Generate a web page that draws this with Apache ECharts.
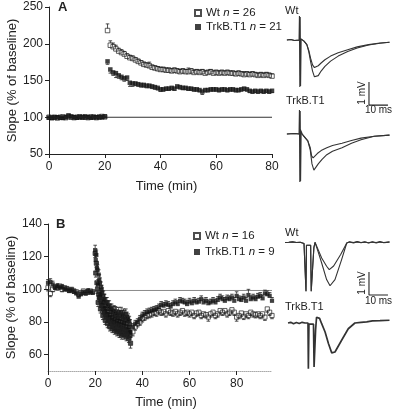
<!DOCTYPE html>
<html><head><meta charset="utf-8">
<script src="https://cdn.jsdelivr.net/npm/echarts@6/dist/echarts.min.js"></script>
<style>html,body{margin:0;padding:0;background:#fff}#c{width:393px;height:412px}</style>
</head><body><div id="c"></div>
<script>
// ---------- Panel A data (time in min, slope % of baseline) ----------
const aTime = [0,1,2,3,4,5,6,7,8,9,10,11,12,13,14,15,16,17,18,19,20,
  21,22,23,24,25,26,27,28,29,30,31,32,33,34,35,36,37,38,39,40,
  41,42,43,44,45,46,47,48,49,50,51,52,53,54,55,56,57,58,59,60,
  61,62,63,64,65,66,67,68,69,70,71,72,73,74,75,76,77,78,79,80];
const aWt = [100,99.5,100,99,100,100.5,99.5,101,100,99.5,100,100.5,100,100,99.5,100.5,100,99.5,100,101,100.5,
  218,198,196,193,190,188,186,183,181,180,
  178,176,174,172,171,170,168,167,166,165,
  165,164,164,163,164,163,162,163,162,162,
  163,161,162,161,162,160,161,162,160,161,
  160,161,160,161,160,160,159,160,159,158,
  159,158,159,158,157,158,157,158,157,156];
const aWtErr = [0.8,0.8,0.8,0.8,0.8,0.8,0.8,0.8,0.8,0.8,0.8,0.8,0.8,0.8,0.8,0.8,0.8,0.8,0.8,0.8,0.8,
  9,6,5,5,4,4,3.5,3.5,3.5,3.5,
  3,3,3,3,3,5,3,3,3,3,
  3,3,3,3,3,3,3,3,3,5,
  3,3,3,3,3,3,3,3,3,3,
  3,3,3,3,3,3,3,3,3,4,
  3,3,3,3,3,3,3,3,3,3];
const aTrk = [99.5,99,100,100,99.5,99,100,102.5,101,100,99.5,100.5,100,101,100,99.5,100.5,100,100.5,100,101,
  176,165,161,160,157,155,153,154,147,146,
  146,145,144,144,143,143,142,141,140,138,
  138,139,139,140,139,142,141,140,140,139,
  139,138,138,137,135,137,137,138,138,138,
  137,138,138,137,138,138,137,137,138,139,
  138,136,135,136,135,136,135,136,135,136];
const aTrkErr = [0.8,0.8,0.8,0.8,0.8,0.8,0.8,0.8,0.8,0.8,0.8,0.8,0.8,0.8,0.8,0.8,0.8,0.8,0.8,0.8,0.8,
  4,5,4,6,4,4,4,4,5,4,
  3,3,3,3,3,3,3,3,3,3,
  2.5,2.5,2.5,2.5,2.5,2.5,2.5,2.5,2.5,2.5,
  2.5,2.5,2.5,2.5,4,2.5,2.5,2.5,2.5,2.5,
  2.5,2.5,2.5,2.5,2.5,2.5,2.5,2.5,2.5,2.5,
  2.5,2.5,2.5,2.5,2.5,2.5,2.5,2.5,2.5,2.5];
const aRef = [[0,100],[80,100]];

// ---------- Panel B data ----------
const bTime1 = [0,1,2,3,4,5,6,7,8,9,10,11,12,13,14,15,16,17,18,19];
const bTime2 = [20,20.25,20.5,20.75, 21,21.25,21.5,21.75, 22,22.25,22.5,22.75, 23,23.25,23.5,23.75,
  24,24.25,24.5,24.75, 25,25.25,25.5,25.75, 26,26.25,26.5,26.75, 27,27.25,27.5,27.75,
  28,28.25,28.5,28.75, 29,29.25,29.5,29.75, 30,30.25,30.5,30.75, 31,31.25,31.5,31.75,
  32,32.25,32.5,32.75, 33,33.25,33.5,33.75, 34,34.25,34.5,34.75, 35];
const bTime3 = [36,37,38,39,40,41,42,43,44,45,46,47,48,49,50,51,52,53,54,55,
  56,57,58,59,60,61,62,63,64,65,66,67,68,69,70,71,72,73,74,75,
  76,77,78,79,80,81,82,83,84,85,86,87,88,89,90,91,92,93,94,95];

const bWt1 = [101,97.5,100,101.5,101,102,100,101,100.5,99.5,100,99,98.5,97,98,99,98,98.5,99,98.5];
const bWt2 = [122,110,116,104, 100,92,97,95, 95,88,92.5,90, 90,84,88,86,
  86.5,81,84.5,83, 84.5,79,82.5,81, 82.5,77,80.5,79, 81,76,79.5,77.5,
  80,75,78.5,76.5, 79,74,77.5,75.5, 78.5,73,76.5,75, 78,72,76,74,
  77.5,72,75.5,74, 77,71,75,73, 75,70,73.5,71.5, 67];
const bWt3 = [74,77,79,80,82,83,84,84.5,85,86,85.5,87,86,86.5,85,87,86,85.5,86.5,85,
  86,87,85.5,86,85,86,84,85.5,86,84,85,84.5,83,85,86,84,85,87,86,87,
  85,86,87.5,86,83,84,85.5,83.5,85,84,86,85,84.5,85,84,85,83,88,86,84];
const bWtErr1 = [2,2,1.5,1.5,1.5,1.5,1.5,1.5,1.5,1.5,1.5,1.5,1.5,1.5,1.5,1.5,1.5,1.5,1.5,1.5];
const bWtErr2 = [2.5,2.5,2.5,2.5, 2.5,2.5,2.5,2.5, 2.5,2.5,2.5,2.5, 2.5,2.5,2.5,2.5,
  2.5,2.5,2.5,2.5, 2.5,2.5,2.5,2.5, 2.5,2.5,2.5,2.5, 2.5,2.5,2.5,2.5,
  2.5,2.5,2.5,2.5, 2.5,2.5,2.5,2.5, 2.5,2.5,2.5,2.5, 2.5,2.5,2.5,2.5,
  2.5,2.5,2.5,2.5, 2.5,2.5,2.5,2.5, 2.5,2.5,2.5,2.5, 3];
const bWtErr3 = [2.5,2,2,2,2,2,2,2,2,2,2,2,2,2,2,2,2,2,2,2,
  2,2,2,2,2,2,2,2,2,2,2,2,2.5,2,2,2,2,2,2,2,
  2,2,2,2,2.5,2,2,2,2,2,2,2,2,2,2,2,2,2,2,2];

const bTrk1 = [104,104.5,103,101,102,101,101.5,100,100,99,99.5,98.5,97.5,95.5,97,98,97.5,99,98,98];
const bTrk2 = [124,118,121,113, 112,103,109,106, 104,97,101.5,99.5, 98,92,96,94,
  94,88.5,92,90, 92,86.5,90,88, 90,84.5,88,86, 88,83,86.5,84.5,
  87,82,85.5,83.5, 86,81,84.5,82.5, 86,80.5,84,82, 86,80,84,82,
  85,79.5,83,81, 85,79,83,81, 82,77,80.5,78.5, 74];
const bTrk3 = [77,79,80,82,84,85,86,86.5,87,87.5,88,89,90.5,90,91,90.5,89.5,91,92,91,
  93,92.5,92,91,92.5,91.5,93,92,92.5,94,92,93,91.5,92,93,92,93.5,95,94,93,
  94.5,94,95,93,96,94,93.5,95,93,96.5,94,95,94,95.5,96,94.5,97.5,97,96,93];
const bTrkErr1 = [2,2,2,1.5,1.5,1.5,1.5,1.5,1.5,1.5,1.5,1.5,1.5,1.5,1.5,1.5,1.5,1.5,1.5,1.5];
const bTrkErr2 = [3,3,3,3, 3,3,3,3, 3,3,3,3, 3,3,3,3,
  3,3,3,3, 3,3,3,3, 3,3,3,3, 3,3,3,3,
  3,3,4,3, 3,3,3,3, 3,3,3,3, 3,3,3,3,
  3,3,4,3, 3,3,3,3, 3,3,3,3, 3];
const bTrkErr3 = [2,2,2,2,2,2,2,2,2,2,2,2,2,2,2,2,2,2,2,2,
  2,2,2,2,2,2,2,2,2,2,2,2,2,2,2,2,2,2,2,2,
  2,2,2,2,2.5,2,2,2,2,3.5,2,2,2,2,2,2,2,2,2,2];
const bRef = [[20,99.3],[95,99.3]];

// ---------- Example traces (t in ms, v in mV) ----------
const trAWt1 = [[1,0],[3,0.02],[5,-0.02],[7.4,0],[7.6,1.04],[7.8,-2.04],[8.1,0.05],[9,0],[10,-0.05],[11,-0.1],[11.5,-0.2],
  [12.5,-0.5],[13.5,-0.95],[14.5,-1.35],[15.5,-1.6],[16.5,-1.65],[17.5,-1.55],[19,-1.35],[21,-1.15],[24,-0.92],
  [28,-0.7],[33,-0.5],[38,-0.35],[44,-0.22],[50,-0.14],[55,-0.1]];
const trAWt2 = [[1,0],[3,0.02],[5,-0.02],[7.8,0],[8.0,1.0],[8.2,-2.0],[8.5,0.05],[9,0],[10,-0.05],[11,-0.1],[11.5,-0.2],
  [12.5,-0.45],[13.5,-0.8],[14.5,-1.08],[15.5,-1.2],[16.5,-1.2],[17.5,-1.12],[19,-1.0],[21,-0.86],[24,-0.7],
  [28,-0.55],[33,-0.42],[38,-0.3],[44,-0.2],[50,-0.13],[55,-0.1]];
const trATrk1 = [[1,0],[5,0.02],[7.4,0],[7.6,1.04],[7.8,-2.09],[8.1,0.2],[9,0],[10,-0.1],[11,-0.2],[12,-0.3],[12.6,-0.28],
  [13.3,-0.7],[14.2,-1.3],[15.2,-1.57],[16.2,-1.5],[17.5,-1.3],[19.5,-1.1],[22,-0.9],[25,-0.75],[30,-0.6],
  [35,-0.4],[40,-0.25],[47,-0.1],[55,-0.05]];
const trATrk2 = [[1,0],[5,0.02],[7.8,0],[8.0,1.0],[8.2,-2.05],[8.5,0.1],[9,0],[10,-0.1],[11,-0.2],[12,-0.3],[12.6,-0.28],
  [13.3,-0.6],[14.0,-0.95],[14.8,-1.04],[15.8,-0.98],[17,-0.85],[19,-0.72],[22,-0.6],[25,-0.5],[30,-0.4],
  [35,-0.28],[40,-0.18],[47,-0.1],[55,-0.05]];
const trBWt1 = [[0,0.02],[1,-0.05],[2,0.03],[3,-0.02],[4,0.05],[5,-0.03],[6,0.02],[7,-0.04],[8,0.03],[9,0],[10,-0.02],
  [10.8,0],[11.05,-2.1],[11.3,-0.1],[13.5,-0.1],[13.8,-2.1],[14.6,-1.0],[15.2,-0.2],[15.8,0.03],[17.5,-0.4],
  [19.3,-0.87],[21.9,-1.59],[23.7,-1.86],[26.3,-1.59],[29.8,-0.72],[32.5,0],[34,0.05],[36,0.02],[38,0.06],
  [40,0.01],[42,0.05],[44,0.0],[46,0.04],[48,0.02],[50,0.06],[52,0.01],[55,0.04]];
const trBWt2 = [[0,0.02],[1,-0.05],[2,0.03],[3,-0.02],[4,0.05],[5,-0.03],[6,0.02],[7,-0.04],[8,0.03],[9,0],[10,-0.02],
  [10.8,0],[11.05,-2.1],[11.3,-0.1],[13.5,-0.1],[13.8,-2.1],[14.6,-1.0],[15.2,-0.2],[15.8,0.03],[17.5,-0.3],
  [19.3,-0.65],[21.9,-1.01],[23.3,-1.16],[25.6,-1.0],[29.3,-0.5],[32.5,0],[34,0.04],[36,0.0],[38,0.05],
  [40,0.02],[42,0.04],[44,0.01],[46,0.05],[48,0.0],[50,0.04],[52,0.02],[55,0.05]];
const trBTrk = [[1.6,0],[3,0.03],[4.5,-0.03],[6,0.02],[7.5,-0.02],[9,0.03],[10.5,0],[12.1,0],[12.3,-1.99],[12.6,-0.05],
  [15.0,-0.05],[15.3,-1.91],[16.1,-0.3],[16.6,0.25],[17.2,0.33],[18.2,0.2],[19.3,-0.03],[21.1,-0.39],[22.9,-0.9],
  [24.6,-1.3],[26.3,-1.26],[29.8,-0.75],[33.3,-0.25],[36.8,0],[40,0.03],[43,0.05],[46,0.09],[50,0.1],[55,0.12]];
const scaleBarA = [[44.2,-1.83],[44.2,-2.83],[54.2,-2.83]];
const scaleBarB = [[44.2,-1.26],[44.2,-2.26],[54.2,-2.26]];

// ---------- build ----------
const FONT = 'Liberation Sans, Arial, Helvetica, sans-serif';
const INK = '#222';
const bTime = bTime1.concat(bTime2, bTime3);
const bWt = bWt1.concat(bWt2, bWt3), bWtErr = bWtErr1.concat(bWtErr2, bWtErr3);
const bTrk = bTrk1.concat(bTrk2, bTrk3), bTrkErr = bTrkErr1.concat(bTrkErr2, bTrkErr3);

const pts = (t, v) => t.map((x, i) => [x, v[i]]);
const errs = (t, v, e, s) => t.map((x, i) => [x, v[i], v[i] + s * e[i]]);
// densely sampled points (20-35 min) merge into a solid mass in the print
const denseStart = bTime1.length, denseEnd = bTime1.length + bTime2.length;
const bWtPts = bTime.map((x, i) => (i >= denseStart && i < denseEnd)
  ? { value: [x, bWt[i]], itemStyle: { color: '#1a1a1a' } } : [x, bWt[i]]);

function errItem(params, api) {
  const x = api.value(0), y1 = api.value(1), y2 = api.value(2);
  const p1 = api.coord([x, y1]), p2 = api.coord([x, y2]);
  const dir = p2[1] > p1[1] ? 1 : -1;
  const start = p1[1] + dir * 2.1;
  const w = 1.8;
  const kids = [];
  if ((p2[1] - start) * dir > 0) {
    kids.push({ type: 'line', shape: { x1: p1[0], y1: start, x2: p2[0], y2: p2[1] }, style: { stroke: INK, lineWidth: 0.8 } });
  }
  kids.push({ type: 'line', shape: { x1: p2[0] - w, y1: p2[1], x2: p2[0] + w, y2: p2[1] }, style: { stroke: INK, lineWidth: 0.8 } });
  return { type: 'group', children: kids };
}

const axisCommon = {
  axisLine: { show: true, lineStyle: { color: INK, width: 1 } },
  axisTick: { show: true, length: 4, lineStyle: { color: INK, width: 1 } },
  splitLine: { show: false },
  axisLabel: { fontSize: 12, color: INK, fontFamily: FONT },
  nameTextStyle: { fontSize: 13, color: INK, fontFamily: FONT },
  nameMoveOverlap: false
};
const hiddenAxis = (g, min, max) => ({ gridIndex: g, type: 'value', min, max, show: false });

const legendNames = { WtA: 'Wt {i|n} = 26', TrkA: 'TrkB.T1 {i|n} = 21', WtB: 'Wt {i|n} = 16', TrkB: 'TrkB.T1 {i|n} = 9' };
const legendCommon = {
  orient: 'vertical', itemWidth: 6, itemHeight: 6,
  formatter: n => legendNames[n],
  textStyle: { fontSize: 11.5, color: INK, fontFamily: FONT,
    rich: { i: { fontStyle: 'italic', fontSize: 11.5, color: INK, fontFamily: FONT } } }
};

const openSq = { color: 'rgba(255,255,255,0)', borderColor: '#222', borderWidth: 0.9 };
const fillSq = { color: '#111' };
const traceLine = (name, g, data, w, c) => ({ name, type: 'line', xAxisIndex: g, yAxisIndex: g, data,
  showSymbol: false, symbol: 'none', clip: false, lineStyle: { color: c || '#333', width: w || 1.1 }, silent: true });
const G = (l, t, w, h) => ({ left: l, top: t, width: w, height: h, outerBoundsMode: 'none', containLabel: false });

const option = {
  animation: false,
  backgroundColor: '#fff',
  textStyle: { fontFamily: FONT },
  grid: [
    G(49, 7, 223, 147),
    G(48, 224, 224, 147),
    G(285, 10.1, 104.5, 98.9),
    G(285, 104.1, 104.5, 87.4),
    G(285, 226.9, 104.5, 73.6),
    G(285, 306.9, 104.5, 66.7)
  ],
  xAxis: [
    Object.assign({}, axisCommon, { gridIndex: 0, type: 'value', min: 0, max: 80, interval: 20,
      name: 'Time (min)', nameLocation: 'middle', nameGap: 26,
      axisLabel: Object.assign({}, axisCommon.axisLabel, { margin: 7 }),
      nameTextStyle: Object.assign({}, axisCommon.nameTextStyle, { padding: [0, 0, 0, 12] }) }),
    Object.assign({}, axisCommon, { gridIndex: 1, type: 'value', min: 0, max: 95,
      name: 'Time (min)', nameLocation: 'middle', nameGap: 25,
      axisLine: { show: true, lineStyle: { color: '#aaa', width: 1, type: 'dotted' } },
      axisTick: { show: true, length: 4, lineStyle: { color: INK }, customValues: [0, 20, 40, 60, 80] },
      axisLabel: Object.assign({}, axisCommon.axisLabel, { margin: 7, customValues: [0, 20, 40, 60, 80] }),
      nameTextStyle: Object.assign({}, axisCommon.nameTextStyle, { padding: [0, 0, 0, 12] }) }),
    hiddenAxis(2, 0, 55), hiddenAxis(3, 0, 55), hiddenAxis(4, 0, 55), hiddenAxis(5, 0, 55)
  ],
  yAxis: [
    Object.assign({}, axisCommon, { gridIndex: 0, type: 'value', min: 50, max: 250, interval: 50,
      name: 'Slope (% of baseline)', nameLocation: 'middle', nameGap: 30,
      axisLabel: Object.assign({}, axisCommon.axisLabel, { margin: 6 }) }),
    Object.assign({}, axisCommon, { gridIndex: 1, type: 'value', min: 50, max: 140,
      name: 'Slope (% of baseline)', nameLocation: 'middle', nameGap: 30,
      axisTick: { show: true, length: 4, lineStyle: { color: INK }, customValues: [60, 80, 100, 120, 140] },
      axisLabel: Object.assign({}, axisCommon.axisLabel, { margin: 6, customValues: [60, 80, 100, 120, 140] }) }),
    hiddenAxis(2, -3, 1.3), hiddenAxis(3, -2.5, 1.3), hiddenAxis(4, -2.5, 0.7), hiddenAxis(5, -2.2, 0.7)
  ],
  legend: [
    Object.assign({}, legendCommon, { data: ['WtA', 'TrkA'], left: 189, top: 2, itemGap: 2 }),
    Object.assign({}, legendCommon, { data: ['WtB', 'TrkB'], left: 188, top: 225, itemGap: 4 })
  ],
  graphic: [
    { type: 'text', left: 58, top: 1, style: { text: 'A', font: 'bold 13px ' + FONT, fill: INK } },
    { type: 'text', left: 56, top: 218, style: { text: 'B', font: 'bold 13px ' + FONT, fill: INK } },
    { type: 'text', left: 285, top: 5, style: { text: 'Wt', font: '11px ' + FONT, fill: INK } },
    { type: 'text', left: 286, top: 95, style: { text: 'TrkB.T1', font: '11px ' + FONT, fill: INK } },
    { type: 'text', left: 285, top: 227, style: { text: 'Wt', font: '11px ' + FONT, fill: INK } },
    { type: 'text', left: 285, top: 301, style: { text: 'TrkB.T1', font: '11px ' + FONT, fill: INK } },
    { type: 'text', x: 362, y: 93, rotation: Math.PI / 2, style: { text: '1 mV', font: '10px ' + FONT, fill: INK, align: 'center', verticalAlign: 'middle' } },
    { type: 'text', x: 378.5, y: 110, style: { text: '10 ms', font: '10px ' + FONT, fill: INK, align: 'center', verticalAlign: 'middle' } },
    { type: 'text', x: 362, y: 283, rotation: Math.PI / 2, style: { text: '1 mV', font: '10px ' + FONT, fill: INK, align: 'center', verticalAlign: 'middle' } },
    { type: 'text', x: 378.5, y: 301, style: { text: '10 ms', font: '10px ' + FONT, fill: INK, align: 'center', verticalAlign: 'middle' } }
  ],
  series: [
    // Panel A
    { name: 'refA', type: 'line', xAxisIndex: 0, yAxisIndex: 0, data: aRef, symbol: 'none', z: 1, silent: true,
      lineStyle: { color: '#333', width: 1 } },
    { name: 'WtA', type: 'scatter', xAxisIndex: 0, yAxisIndex: 0, data: pts(aTime, aWt), symbol: 'rect', symbolSize: 4.5,
      itemStyle: openSq, z: 3 },
    { name: 'errWtA', type: 'custom', xAxisIndex: 0, yAxisIndex: 0, renderItem: errItem, data: errs(aTime, aWt, aWtErr, 1),
      encode: { x: 0, y: [1, 2] }, z: 5, silent: true },
    { name: 'TrkA', type: 'scatter', xAxisIndex: 0, yAxisIndex: 0, data: pts(aTime, aTrk), symbol: 'rect', symbolSize: 4.5,
      itemStyle: fillSq, z: 4 },
    { name: 'errTrkA', type: 'custom', xAxisIndex: 0, yAxisIndex: 0, renderItem: errItem, data: errs(aTime, aTrk, aTrkErr, -1),
      encode: { x: 0, y: [1, 2] }, z: 5, silent: true },
    // Panel B
    { name: 'refB', type: 'line', xAxisIndex: 1, yAxisIndex: 1, data: bRef, symbol: 'none', z: 1, silent: true,
      lineStyle: { color: '#8a8a8a', width: 1 } },
    { name: 'WtB', type: 'scatter', xAxisIndex: 1, yAxisIndex: 1, data: bWtPts, symbol: 'rect', symbolSize: 4.2,
      itemStyle: openSq, z: 3 },
    { name: 'errWtB', type: 'custom', xAxisIndex: 1, yAxisIndex: 1, renderItem: errItem, data: errs(bTime, bWt, bWtErr, -1),
      encode: { x: 0, y: [1, 2] }, z: 5, silent: true },
    { name: 'TrkB', type: 'scatter', xAxisIndex: 1, yAxisIndex: 1, data: pts(bTime, bTrk), symbol: 'rect', symbolSize: 4.2,
      itemStyle: fillSq, z: 4 },
    { name: 'errTrkB', type: 'custom', xAxisIndex: 1, yAxisIndex: 1, renderItem: errItem, data: errs(bTime, bTrk, bTrkErr, 1),
      encode: { x: 0, y: [1, 2] }, z: 5, silent: true },
    // Traces
    traceLine('trAWt1', 2, trAWt1, 1.1),
    traceLine('trAWt2', 2, trAWt2, 1.1),
    traceLine('scaleA', 2, scaleBarA, 1.1, INK),
    traceLine('trATrk1', 3, trATrk1, 1.1),
    traceLine('trATrk2', 3, trATrk2, 1.1),
    traceLine('trBWt1', 4, trBWt1, 1.1),
    traceLine('trBWt2', 4, trBWt2, 1.1),
    traceLine('scaleB', 4, scaleBarB, 1.1, INK),
    traceLine('trBTrk', 5, trBTrk, 1.7)
  ]
};
const chart = echarts.init(document.getElementById('c'), null, { renderer: 'canvas' });
chart.setOption(option);
</script></body></html>
